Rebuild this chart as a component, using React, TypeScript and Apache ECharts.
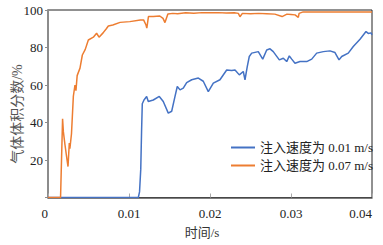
import React, { useEffect, useRef } from "react";
import * as echarts from "echarts";

const seriesNames = ["注入速度为 0.01 m/s", "注入速度为 0.07 m/s"];
const xTicks = [0, 0.01, 0.02, 0.03, 0.04];
const yTicks = [0, 20, 40, 60, 80, 100];

const blueT = [
  0, 0.01115, 0.0113, 0.01145, 0.01155, 0.01164, 0.01185, 0.01218, 0.01238, 0.013,
  0.01374, 0.01423, 0.01485, 0.01527, 0.01568, 0.01596, 0.0163, 0.0167, 0.01712, 0.01774,
  0.01856, 0.01917, 0.01979, 0.02041, 0.02123, 0.02206, 0.02268, 0.02309, 0.02362, 0.02411,
  0.02432, 0.0246, 0.02485, 0.02515, 0.02596, 0.02651, 0.027, 0.02741, 0.02781, 0.02856,
  0.02905, 0.02947, 0.02979, 0.03009, 0.03049, 0.03111, 0.03194, 0.03256, 0.03317, 0.03399,
  0.03481, 0.03543, 0.03593, 0.03626, 0.03707, 0.03769, 0.03852, 0.03926, 0.03954, 0.03988, 0.04,
];
const blueV = [
  0, 0, 3, 15, 35, 50, 52, 53.9, 51.2, 52,
  53.9, 51.2, 45, 46, 53.9, 59.2, 57.4, 58.3, 61.3, 62.8,
  63.7, 62, 56.5, 61, 62.8, 68, 67.7, 68, 65.4, 67.2,
  62.8, 69.8, 75.2, 77, 77.8, 73.8, 78.7, 79.3, 77.8, 73.4,
  74.3, 72.5, 75.5, 73.8, 71.6, 72.5, 72.5, 73.8, 77, 77.8,
  78.2, 77.3, 73.4, 75.2, 77, 80.5, 84.4, 88.5, 87.5, 87.8, 86.7,
];

const orangeT = [
  0, 0.00155, 0.0018, 0.0019, 0.0021, 0.00235, 0.00247, 0.00263, 0.0027, 0.0029,
  0.00313, 0.00333, 0.00345, 0.0036, 0.00395, 0.00424, 0.0046, 0.00498, 0.0056, 0.006,
  0.0063, 0.0068, 0.0072, 0.00745, 0.008, 0.0089, 0.0101, 0.0114, 0.0118, 0.0121,
  0.0122, 0.0124, 0.013, 0.0138, 0.0142, 0.01444, 0.0148, 0.0154, 0.016, 0.017,
  0.018, 0.019, 0.02, 0.021, 0.022, 0.023, 0.0235, 0.0237, 0.024, 0.025,
  0.026, 0.027, 0.028, 0.0289, 0.0295, 0.03, 0.0305, 0.0309, 0.031, 0.0315,
  0.033, 0.035, 0.037, 0.04,
];
const orangeV = [
  0, 0, 42, 35, 28, 20, 16.5, 29, 26, 34,
  54, 60, 57, 65, 69, 76, 79, 84, 85.5, 87.6,
  85.5, 87.8, 90, 91.5, 92, 93.4, 93.8, 94.7, 94.7, 92,
  90.3, 96.5, 96.5, 96.8, 95.5, 93.3, 97.9, 98.2, 98, 98.5,
  98.3, 98.6, 98.5, 98.6, 98.4, 98.5, 98.2, 96.4, 98.2, 98,
  98.2, 98, 97.8, 96.5, 97.8, 97.6, 97.4, 96.1, 98.2, 99,
  99, 99, 99, 99,
];

const FONT = "Liberation Serif, Noto Sans CJK SC, serif";

export default function App() {
  const ref = useRef<HTMLDivElement>(null);
  useEffect(() => {
    if (!ref.current) return;
    const chart = echarts.init(ref.current, undefined, { renderer: "svg" });
    const zip = (t: number[], v: number[]) => t.map((x, i) => [x, v[i]]);
    chart.setOption({
      animation: false,
      textStyle: { fontFamily: FONT },
      grid: {
        left: 48,
        right: 11,
        top: 10,
        bottom: 47.5,
        show: true,
        borderColor: "#222",
        borderWidth: 1,
        backgroundColor: "transparent",
      },
      legend: {
        orient: "vertical",
        left: 226,
        top: 136,
        itemWidth: 24,
        itemHeight: 2,
        itemGap: 5,
        icon: "rect",
        data: seriesNames,
        textStyle: { fontSize: 13, color: "#222", fontFamily: FONT },
      },
      xAxis: {
        type: "value",
        min: xTicks[0],
        max: xTicks[xTicks.length - 1],
        interval: 0.01,
        splitLine: { show: false },
        axisLine: { show: true, lineStyle: { color: "#555", width: 1.5 } },
        axisTick: { show: true, inside: true, length: 4, lineStyle: { color: "#aaa" } },
        axisLabel: {
          fontSize: 13,
          fontFamily: "Liberation Serif",
          color: "#222",
          margin: 9,
          alignMinLabel: "right",
          alignMaxLabel: "right",
          formatter: (v: number) => (v === 0 ? "0" : String(+v.toFixed(2))),
        },
      },
      yAxis: {
        type: "value",
        min: yTicks[0],
        max: yTicks[yTicks.length - 1],
        interval: 20,
        splitLine: { show: false },
        axisLine: { show: true, lineStyle: { color: "#8c8c8c", width: 2 } },
        axisTick: { show: true, inside: false, length: 3, lineStyle: { color: "#8c8c8c" } },
        axisLabel: {
          fontSize: 13,
          fontFamily: "Liberation Serif",
          color: "#222",
          margin: 5,
          formatter: (v: number) => (v === 0 ? "" : String(v)),
        },
      },
      graphic: [
        {
          type: "text",
          x: 17,
          y: 114,
          rotation: Math.PI / 2,
          style: {
            text: "气体体积分数/%",
            fontSize: 14,
            fontFamily: FONT,
            fill: "#555",
            align: "center",
            verticalAlign: "middle",
          },
        },
        {
          type: "text",
          x: 202,
          y: 232,
          style: {
            text: "时间/s",
            fontSize: 13,
            fontFamily: FONT,
            fill: "#333",
            align: "center",
            verticalAlign: "middle",
          },
        },
      ],
      series: [
        {
          name: seriesNames[0],
          type: "line",
          symbol: "none",
          data: zip(blueT, blueV),
          lineStyle: { color: "#4472C4", width: 1.5 },
          itemStyle: { color: "#4472C4" },
        },
        {
          name: seriesNames[1],
          type: "line",
          symbol: "none",
          data: zip(orangeT, orangeV),
          lineStyle: { color: "#ED7D31", width: 1.5 },
          itemStyle: { color: "#ED7D31" },
        },
      ],
    });
    return () => chart.dispose();
  }, []);
  return <div ref={ref} style={{ width: 383, height: 245, position: "absolute", left: 0, top: 0 }} />;
}
